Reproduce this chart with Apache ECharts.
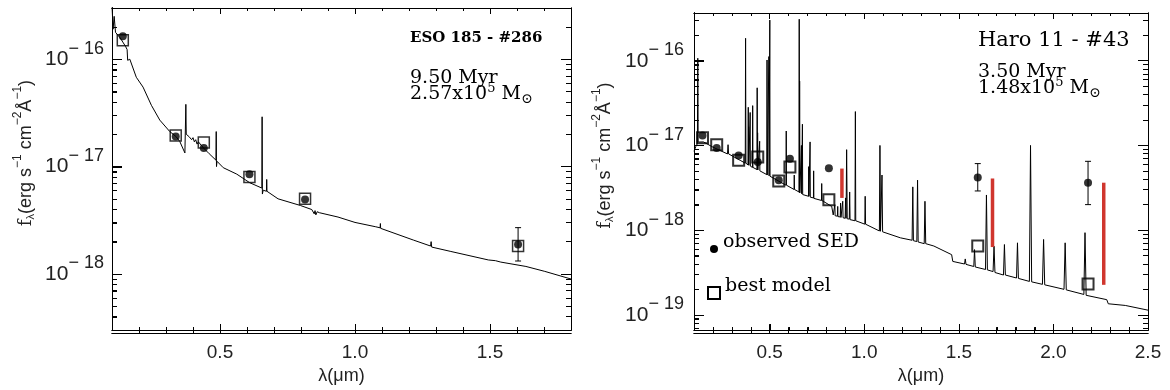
<!DOCTYPE html>
<html><head><meta charset="utf-8">
<script src="https://cdn.jsdelivr.net/npm/echarts@6/dist/echarts.min.js"></script>
<style>html,body{margin:0;padding:0;background:#fff}#c{width:1170px;height:390px}</style>
</head><body><div id="c"></div>
<script>
// ---------------- LEFT PANEL: ESO 185 - #286 ----------------
const leftXRange = [0.1, 1.8];
const leftYRange = [3e-19, 3e-16];
const leftSpectrum = [
  [0.100,3.16e-16],[0.104,1.905e-16],[0.108,2.51e-16],[0.113,1.78e-16],[0.120,1.82e-16],
  [0.130,1.585e-16],[0.140,1.445e-16],[0.150,1.318e-16],[0.156,1.23e-16],[0.158,9.77e-17],
  [0.166,1.0e-16],[0.190,6.79e-17],[0.215,5.50e-17],[0.246,3.72e-17],[0.277,2.71e-17],
  [0.314,2.12e-17],[0.337,1.905e-17],[0.351,1.714e-17],[0.370,1.34e-17],[0.3725,1.35e-17],
  [0.3735,3.80e-17],[0.375,2.0e-17],[0.380,2.0e-17],[0.385,1.905e-17],[0.390,1.95e-17],
  [0.395,1.78e-17],[0.400,1.86e-17],[0.405,1.70e-17],[0.410,1.78e-17],[0.415,1.62e-17],
  [0.420,1.70e-17],[0.430,1.585e-17],[0.440,1.48e-17],[0.460,1.318e-17],[0.485,1.148e-17],
  [0.486,2.12e-17],[0.487,1.0e-17],[0.489,1.12e-17],[0.512,9.77e-18],[0.562,8.51e-18],
  [0.610,7.08e-18],[0.655,6.31e-18],[0.656,2.91e-17],[0.657,5.55e-18],[0.660,6.03e-18],
  [0.672,5.89e-18],[0.673,7.59e-18],[0.674,5.89e-18],[0.715,5.01e-18],[0.798,4.34e-18],
  [0.840,3.98e-18],[0.849,3.63e-18],[0.852,3.89e-18],[0.855,3.55e-18],[0.860,3.80e-18],
  [0.868,3.72e-18],[0.937,3.39e-18],[1.000,3.02e-18],[1.077,2.75e-18],[1.093,2.69e-18],
  [1.094,2.95e-18],[1.095,2.66e-18],[1.216,2.07e-18],[1.280,1.82e-18],[1.282,2.0e-18],
  [1.284,1.78e-18],[1.355,1.62e-18],[1.494,1.35e-18],[1.520,1.33e-18],[1.540,1.29e-18],
  [1.633,1.175e-18],[1.703,1.057e-18],[1.800,8.97e-19]
];
const leftBands = [0.140, 0.336, 0.440, 0.609, 0.815, 1.604];
const leftObserved = [1.64e-16, 1.905e-17, 1.49e-17, 8.47e-18, 4.95e-18, 1.88e-18];
const leftModel = [1.50e-16, 1.95e-17, 1.68e-17, 8.02e-18, 5.01e-18, 1.82e-18];
const leftErrBand = [1.604];
const leftErrLow = [1.32e-18];
const leftErrHigh = [2.70e-18];
const leftXMajorTicks = [0.5, 1.0, 1.5];
const leftXMinorTicks = [0.2,0.3,0.4,0.6,0.7,0.8,0.9,1.1,1.2,1.3,1.4,1.6,1.7];
const leftYMajorTicks = [1e-18, 1e-17, 1e-16];
const leftYMinorTicks = [4e-19,5e-19,6e-19,7e-19,8e-19,9e-19,2e-18,3e-18,4e-18,5e-18,6e-18,7e-18,8e-18,9e-18,
  2e-17,3e-17,4e-17,5e-17,6e-17,7e-17,8e-17,9e-17,2e-16];

// ---------------- RIGHT PANEL: Haro 11 - #43 ----------------
const rightXRange = [0.1, 2.5];
const rightYRange = [6.6e-20, 3.66e-16];
const rightSpectrum = [
  [0.100,8.51e-18],[0.110,9.77e-18],[0.118,1.047e-17],[0.120,1.07e-16],[0.122,1.096e-17],
  [0.132,1.14e-17],[0.150,1.10e-17],[0.200,9.55e-18],[0.238,8.71e-18],[0.277,7.94e-18],
  [0.280,1.02e-17],[0.283,7.94e-18],[0.344,6.67e-18],[0.371,6.17e-18],[0.3727,1.84e-16],
  [0.3745,6.17e-18],[0.3855,5.89e-18],[0.3869,2.82e-17],[0.3880,5.89e-18],[0.3889,1.66e-17],
  [0.3900,5.82e-18],[0.3960,5.75e-18],[0.3970,2.45e-17],[0.3980,5.69e-18],[0.4090,5.50e-18],
  [0.4102,2.95e-17],[0.4115,5.50e-18],[0.4330,5.19e-18],[0.4340,4.79e-17],[0.4352,5.19e-18],
  [0.4363,1.41e-17],[0.4375,5.13e-18],[0.4460,5.07e-18],[0.4471,1.12e-17],[0.4482,5.01e-18],
  [0.4850,4.52e-18],[0.4861,1.02e-16],[0.4872,4.47e-18],[0.4950,4.42e-18],[0.4959,1.12e-16],
  [0.4970,4.37e-18],[0.4996,4.37e-18],[0.5007,3.02e-16],[0.5020,4.32e-18],[0.5865,3.39e-18],
  [0.5876,1.48e-17],[0.5888,3.39e-18],[0.6290,3.02e-18],[0.6300,4.47e-18],[0.6312,3.02e-18],
  [0.6550,2.82e-18],[0.6563,3.09e-16],[0.6575,2.79e-18],[0.6584,5.75e-17],[0.6596,2.75e-18],
  [0.6668,2.69e-18],[0.6678,1.0e-17],[0.6690,2.69e-18],[0.6720,2.66e-18],[0.6731,1.78e-17],
  [0.6745,2.63e-18],[0.7055,2.51e-18],[0.7065,5.62e-18],[0.7076,2.51e-18],[0.7125,2.48e-18],
  [0.7136,1.10e-17],[0.7148,2.45e-18],[0.7315,2.40e-18],[0.7325,5.01e-18],[0.7337,2.37e-18],
  [0.7740,2.24e-18],[0.7751,3.55e-18],[0.7762,2.24e-18],[0.828,1.905e-18],[0.836,1.51e-18],
  [0.843,1.50e-18],[0.8446,2.0e-18],[0.846,1.48e-18],[0.858,1.46e-18],[0.8598,1.905e-18],
  [0.861,1.445e-18],[0.873,1.43e-18],[0.8750,2.09e-18],[0.877,1.41e-18],[0.884,1.41e-18],
  [0.8863,2.19e-18],[0.888,1.40e-18],[0.899,1.38e-18],[0.9015,2.40e-18],[0.904,1.38e-18],
  [0.9069,8.91e-18],[0.910,1.36e-18],[0.921,1.35e-18],[0.9229,2.82e-18],[0.925,1.33e-18],
  [0.951,1.29e-18],[0.9531,2.51e-17],[0.955,1.29e-18],[1.003,1.175e-18],[1.0049,2.51e-18],
  [1.007,1.175e-18],[1.080,9.77e-19],[1.0830,1.0e-17],[1.086,9.70e-19],[1.091,9.55e-19],
  [1.0938,4.47e-18],[1.097,9.55e-19],[1.191,8.11e-19],[1.253,7.59e-19],[1.2567,3.24e-18],
  [1.260,7.50e-19],[1.278,7.33e-19],[1.2818,3.89e-18],[1.285,7.24e-19],[1.317,6.92e-19],
  [1.3209,2.19e-18],[1.325,6.92e-19],[1.368,6.49e-19],[1.462,5.13e-19],[1.468,4.27e-19],
  [1.530,3.98e-19],[1.534,4.57e-19],[1.538,3.94e-19],[1.579,3.72e-19],[1.583,5.89e-19],
  [1.587,3.67e-19],[1.641,3.43e-19],[1.646,2.60e-18],[1.651,3.39e-19],[1.681,3.24e-19],
  [1.686,6.46e-19],[1.691,3.16e-19],[1.736,2.95e-19],[1.741,6.76e-19],[1.746,2.95e-19],
  [1.805,2.72e-19],[1.810,7.08e-19],[1.815,2.69e-19],[1.873,2.48e-19],[1.879,1.0e-17],
  [1.885,2.45e-19],[1.942,2.29e-19],[1.948,7.76e-19],[1.954,2.26e-19],[2.056,2.0e-19],
  [2.062,7.08e-19],[2.068,1.97e-19],[2.161,1.74e-19],[2.167,9.33e-19],[2.173,1.70e-19],
  [2.282,1.51e-19],[2.290,1.35e-19],[2.380,1.29e-19],[2.500,1.135e-19]
];
const rightBands = [0.145, 0.220, 0.336, 0.437, 0.548, 0.607, 0.813, 1.600, 2.183];
const rightObserved = [1.306e-17, 9.33e-18, 7.62e-18, 6.38e-18, 3.89e-18, 6.97e-18, 5.37e-18, 4.19e-18, 3.62e-18];
const rightModel = [1.23e-17, 1.02e-17, 6.67e-18, 7.29e-18, 3.80e-18, 5.57e-18, 2.29e-18, 6.49e-19, 2.31e-19];
const rightErrBand = [1.600, 2.183];
const rightErrLow = [2.90e-18, 2.0e-18];
const rightErrHigh = [6.10e-18, 6.49e-18];
const redBand = [0.882, 1.678, 2.266];
const redLow = [2.40e-18, 6.31e-19, 2.26e-19];
const redHigh = [5.33e-18, 4.07e-18, 3.63e-18];
const rightXMajorTicks = [0.5, 1.0, 1.5, 2.0];
const rightXLabels = [0.5, 1.0, 1.5, 2.0, 2.5];
const rightXMinorTicks = [0.2,0.3,0.4,0.6,0.7,0.8,0.9,1.1,1.2,1.3,1.4,1.6,1.7,1.8,1.9,2.1,2.2,2.3,2.4];
const rightYMajorTicks = [1e-19, 1e-18, 1e-17, 1e-16];
const rightYMinorTicks = [7e-20,8e-20,9e-20,2e-19,3e-19,4e-19,5e-19,6e-19,7e-19,8e-19,9e-19,
  2e-18,3e-18,4e-18,5e-18,6e-18,7e-18,8e-18,9e-18,2e-17,3e-17,4e-17,5e-17,6e-17,7e-17,8e-17,9e-17,2e-16,3e-16];

// ---------------- texts ----------------
const leftTitle = 'ESO 185 - #286';
const leftAge = '9.50 Myr';
const leftMass = ['2.57x10', '5', ' M', '\u2299'];
const rightTitle = 'Haro 11 - #43';
const rightAge = '3.50 Myr';
const rightMass = ['1.48x10', '5', ' M', '\u2299'];
const legendNames = ['observed SED', 'best model'];

// ---------------- helpers ----------------
const SANS = 'Liberation Sans';
const SERIF = 'DejaVu Serif';
const INK = '#222';
const pairs = (xs, ys) => xs.map((x, i) => [x, ys[i]]);
const triples = (xs, a, b) => xs.map((x, i) => [x, a[i], b[i]]);
function errRender(params, api) {
  const x = api.value(0);
  const lo = api.coord([x, api.value(1)]);
  const hi = api.coord([x, api.value(2)]);
  const st = { stroke: '#000', lineWidth: 1 };
  return { type: 'group', children: [
    { type: 'line', shape: { x1: lo[0], y1: lo[1], x2: hi[0], y2: hi[1] }, style: st },
    { type: 'line', shape: { x1: lo[0] - 3, y1: lo[1], x2: lo[0] + 3, y2: lo[1] }, style: st },
    { type: 'line', shape: { x1: hi[0] - 3, y1: hi[1], x2: hi[0] + 3, y2: hi[1] }, style: st }
  ]};
}
function redRender(params, api) {
  const x = api.value(0);
  const lo = api.coord([x, api.value(1)]);
  const hi = api.coord([x, api.value(2)]);
  return { type: 'line', shape: { x1: lo[0], y1: lo[1], x2: hi[0], y2: hi[1] },
    style: { stroke: '#d0362e', lineWidth: 3.5, lineCap: 'butt' } };
}
const yLabelRich = {
  b: { fontFamily: SANS, fontSize: 21, lineHeight: 21, color: INK },
  s: { fontFamily: SANS, fontSize: 18, lineHeight: 18, color: INK, padding: [0, 0, 21, 0] }
};
function yLabelFmt(v) {
  const r = Math.round(Math.log10(v));
  return '{b|10}{s|\u2212 ' + Math.abs(r) + '}';
}
const yName = '{f|f}{l|\u03bb}{a|(erg s}{p|\u22121}{a| cm}{p|\u22122}{a|\u00c5}{p|\u22121}{a|)}';
const yNameStyle = {
  color: INK, padding: [0, 0, 0, 32],
  rich: {
    f: { fontFamily: SERIF, fontSize: 18, lineHeight: 18, color: INK },
    l: { fontFamily: SANS, fontSize: 11, lineHeight: 11, color: INK, padding: [9, 0, 0, 0] },
    a: { fontFamily: SANS, fontSize: 18, lineHeight: 18, color: INK },
    p: { fontFamily: SANS, fontSize: 12, lineHeight: 12, color: INK, padding: [0, 0, 16, 0] }
  }
};
const frameLine = { show: true, onZero: false, lineStyle: { color: '#000', width: 1 } };
const tickLine = { color: '#000', width: 1 };
// each axis draws one set of ticks (major or minor) along one edge of a grid
function xTickAxis(gi, range, pos, offset, inside, ticks, len) {
  return { type: 'value', gridIndex: gi, position: pos, offset: offset, min: range[0], max: range[1],
    axisLine: frameLine, splitLine: { show: false }, axisLabel: { show: false },
    axisTick: { show: true, inside: inside, length: len, customValues: ticks, lineStyle: tickLine } };
}
function yTickAxis(gi, range, pos, offset, inside, ticks, len) {
  return { type: 'log', logBase: 10, gridIndex: gi, position: pos, offset: offset, min: range[0], max: range[1],
    axisLine: frameLine, splitLine: { show: false }, axisLabel: { show: false },
    axisTick: { show: true, inside: inside, length: len, customValues: ticks, lineStyle: tickLine } };
}
function xLabelAxis(gi, range, labels, ticks) {
  const a = xTickAxis(gi, range, 'bottom', 0, true, ticks, 6);
  a.axisLabel = { show: true, customValues: labels, formatter: v => v.toFixed(1),
    fontFamily: SANS, fontSize: 19, color: INK, margin: 13 };
  a.name = '\u03bb(\u03bcm)'; a.nameLocation = 'middle'; a.nameGap = 35;
  a.nameTextStyle = { fontFamily: SANS, fontSize: 18, color: INK };
  return a;
}
function yLabelAxis(gi, range, labels, gap, margin) {
  const a = yTickAxis(gi, range, 'left', 0, true, labels, 10);
  a.axisLabel = { show: true, customValues: labels, formatter: yLabelFmt, rich: yLabelRich, margin: margin };
  a.name = yName; a.nameLocation = 'middle'; a.nameGap = gap; a.nameRotate = 90; a.nameTextStyle = yNameStyle;
  return a;
}
function xAxesFor(gi, range, labels, maj, min, h) {
  return [
    xLabelAxis(gi, range, labels, maj),
    xTickAxis(gi, range, 'bottom', 0, true, min, 3),
    xTickAxis(gi, range, 'top', 0, true, maj, 6),
    xTickAxis(gi, range, 'top', 0, true, min, 3),
    xTickAxis(gi, range, 'top', -h, false, maj, 6),
    xTickAxis(gi, range, 'top', -h, false, min, 3)
  ];
}
function yAxesFor(gi, range, maj, min, w, gap, margin) {
  return [
    yLabelAxis(gi, range, maj, gap, margin),
    yTickAxis(gi, range, 'left', 0, true, min, 5),
    yTickAxis(gi, range, 'right', 0, true, maj, 10),
    yTickAxis(gi, range, 'right', 0, true, min, 5),
    yTickAxis(gi, range, 'right', -w, false, maj, 10),
    yTickAxis(gi, range, 'right', -w, false, min, 5)
  ];
}
function massRich(size) {
  return {
    t: { fontFamily: SERIF, fontSize: size, lineHeight: size, color: '#000' },
    p: { fontFamily: SERIF, fontSize: 13, lineHeight: 13, color: '#000', padding: [0, 0, 12, 0] },
    u: { fontFamily: SERIF, fontSize: 14, lineHeight: 14, color: '#000', padding: [9, 0, 0, 0] }
  };
}
const massText = m => '{t|' + m[0] + '}{p|' + m[1] + '}{t|' + m[2] + '}{u|' + m[3] + '}';

const GL = { left: 112, top: 8, width: 459, height: 325 };
const GR = { left: 694, top: 13, width: 454, height: 320 };
const chart = echarts.init(document.getElementById('c'), null, { renderer: 'canvas' });
const baseGraphic = [
  { type: 'text', left: 410, top: 31, style: { text: leftTitle, font: 'bold 15px "DejaVu Serif"', fill: '#000' } },
  { type: 'text', left: 410, top: 69, style: { text: leftAge, font: '19px "DejaVu Serif"', fill: '#000' } },
  { type: 'text', left: 410, top: 82, style: { text: massText(leftMass), rich: massRich(19), fill: '#000' } },
  { type: 'text', left: 978, top: 30, style: { text: rightTitle, font: '21px "DejaVu Serif"', fill: '#000' } },
  { type: 'text', left: 978, top: 63, style: { text: rightAge, font: '19px "DejaVu Serif"', fill: '#000' } },
  { type: 'text', left: 978, top: 76, style: { text: massText(rightMass), rich: massRich(19), fill: '#000' } },
  { type: 'circle', shape: { cx: 714, cy: 249, r: 4 }, style: { fill: '#000' } },
  { type: 'rect', shape: { x: 708, y: 287, width: 12, height: 12 }, style: { fill: 'none', stroke: '#000', lineWidth: 2 } },
  { type: 'text', left: 723, top: 233, style: { text: legendNames[0], font: '19px "DejaVu Serif"', fill: '#000' } },
  { type: 'text', left: 725, top: 277, style: { text: legendNames[1], font: '19px "DejaVu Serif"', fill: '#000' } }
];
const option = {
  animation: false,
  backgroundColor: '#fff',
  grid: [Object.assign({ show: false }, GL), Object.assign({ show: false }, GR)],
  xAxis: xAxesFor(0, leftXRange, leftXMajorTicks, leftXMajorTicks, leftXMinorTicks, GL.height)
    .concat(xAxesFor(1, rightXRange, rightXLabels, rightXMajorTicks, rightXMinorTicks, GR.height)),
  yAxis: yAxesFor(0, leftYRange, leftYMajorTicks, leftYMinorTicks, GL.width, 77, 8)
    .concat(yAxesFor(1, rightYRange, rightYMajorTicks, rightYMinorTicks, GR.width, 80, 10)),
  series: [
    { type: 'line', xAxisIndex: 0, yAxisIndex: 0, data: leftSpectrum, showSymbol: false, symbol: 'none',
      lineStyle: { color: '#000', width: 1 }, z: 2 },
    { type: 'scatter', xAxisIndex: 0, yAxisIndex: 0, data: pairs(leftBands, leftModel), symbol: 'rect', symbolSize: 11,
      itemStyle: { color: 'rgba(0,0,0,0)', borderColor: '#000', borderWidth: 1.5 }, z: 3 },
    { type: 'custom', xAxisIndex: 0, yAxisIndex: 0, data: triples(leftErrBand, leftErrLow, leftErrHigh),
      renderItem: errRender, encode: { x: 0, y: [1, 2] }, z: 3 },
    { type: 'scatter', xAxisIndex: 0, yAxisIndex: 0, data: pairs(leftBands, leftObserved), symbol: 'circle', symbolSize: 8,
      itemStyle: { color: '#000' }, z: 4 },

    { type: 'line', xAxisIndex: 6, yAxisIndex: 6, data: rightSpectrum, showSymbol: false, symbol: 'none',
      lineStyle: { color: '#000', width: 1 }, z: 2 },
    { type: 'custom', xAxisIndex: 6, yAxisIndex: 6, data: triples(redBand, redLow, redHigh),
      renderItem: redRender, encode: { x: 0, y: [1, 2] }, z: 3 },
    { type: 'scatter', xAxisIndex: 6, yAxisIndex: 6, data: pairs(rightBands, rightModel), symbol: 'rect', symbolSize: 11,
      itemStyle: { color: 'rgba(0,0,0,0)', borderColor: '#000', borderWidth: 2 }, z: 3 },
    { type: 'custom', xAxisIndex: 6, yAxisIndex: 6, data: triples(rightErrBand, rightErrLow, rightErrHigh),
      renderItem: errRender, encode: { x: 0, y: [1, 2] }, z: 3 },
    { type: 'scatter', xAxisIndex: 6, yAxisIndex: 6, data: pairs(rightBands, rightObserved), symbol: 'circle', symbolSize: 8,
      itemStyle: { color: '#000' }, z: 4 }
  ],
  graphic: baseGraphic
};
chart.setOption(option);

// extra crisp inward ticks on the left and bottom edges, placed through the axes' own scales
try {
  const snap = v => Math.round(v) + 0.5;
  const edgeTicks = (ai, xr, yr, xMaj, xMin, yMaj, yMin) => {
    const els = [];
    const P = (x, y) => chart.convertToPixel({ xAxisIndex: ai, yAxisIndex: ai }, [x, y]);
    const add = (x1, y1, x2, y2) => els.push({ type: 'line', silent: true, z: 100,
      shape: { x1: x1, y1: y1, x2: x2, y2: y2 }, style: { stroke: '#000', lineWidth: 1 } });
    [[xMaj, 6], [xMin, 3]].forEach(([arr, L]) => arr.forEach(v => {
      const b = P(v, yr[0]);
      const x = snap(b[0]);
      add(x, Math.round(b[1]), x, Math.round(b[1]) - L);
    }));
    [[yMaj, 10], [yMin, 5]].forEach(([arr, L]) => arr.forEach(v => {
      const l = P(xr[0], v);
      const y = snap(l[1]);
      add(Math.round(l[0]), y, Math.round(l[0]) + L, y);
    }));
    return els;
  };
  const ticks = edgeTicks(0, leftXRange, leftYRange, leftXMajorTicks, leftXMinorTicks, leftYMajorTicks, leftYMinorTicks)
    .concat(edgeTicks(6, rightXRange, rightYRange, rightXMajorTicks, rightXMinorTicks, rightYMajorTicks, rightYMinorTicks));
  chart.setOption({ graphic: baseGraphic.concat(ticks) });
} catch (e) { /* axis ticks above remain */ }
</script>
</body></html>
